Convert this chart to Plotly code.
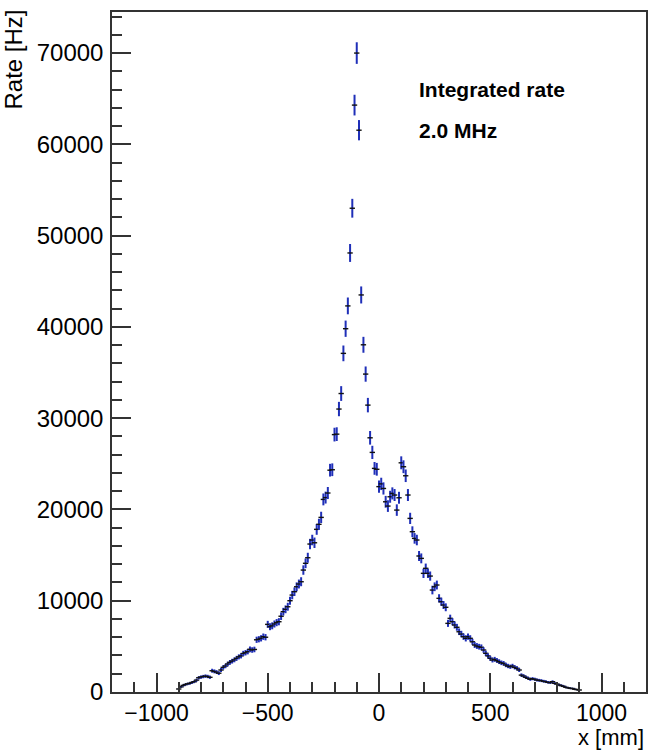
import numpy as np
import plotly.graph_objects as go

# bin centres [mm]
x_left = list(range(-900, -90, 10))      # -900 ... -100
x_right = list(range(-90, 910, 10))      # -90 ... 900

rate_left = [330, 560, 720, 820, 890, 950, 1050, 1130, 1300, 1560,
             1640, 1690, 1740, 1700, 1610, 2330, 2260, 2180, 2060, 2410,
             2700, 2850, 3070, 3250, 3380, 3520, 3690, 3850, 3960, 4220,
             4300, 4420, 4680, 4600, 4660, 5720, 5780, 5880, 6060, 6000,
             7410, 7150, 7250, 7450, 7600, 7700, 8300, 8800, 9060, 9340,
             10000, 10620, 10990, 11530, 11830, 12080, 13360, 14100, 14710, 16210,
             16650, 16350, 17820, 18370, 19130, 21100, 21300, 21800, 24300, 24350,
             28200, 28250, 31000, 32700, 37100, 39800, 42300, 48100, 53000, 64300,
             70000]

rate_right = [61550, 43500, 38040, 34830, 31430, 27850, 26250, 24500, 24400, 22500,
              22800, 22300, 20840, 20370, 21390, 21760, 21580, 19930, 21280, 25110,
              24680, 23690, 21580, 19020, 17560, 16830, 16650, 14900, 14640, 13000,
              13550, 13000, 12700, 11170, 11530, 11720, 10260, 9890, 9530, 9280,
              7520, 8070, 7700, 7340, 7090, 6600, 6350, 6060, 5880, 6060,
              5880, 5500, 5150, 5040, 4960, 4900, 4600, 4240, 3950, 3690,
              3500, 3580, 3450, 3320, 3200, 3140, 2960, 2850, 2770, 2850,
              2700, 2600, 2410, 1850, 1750, 1610, 1500, 1390, 1460, 1400,
              1310, 1280, 1240, 1180, 1130, 1060, 1020, 1130, 950, 870,
              770, 700, 620, 510, 460, 400, 380, 300, 260, 220]

x_mm = x_left + x_right
rate_hz = rate_left + rate_right

LIVE_TIME = 0.05  # s, gives Poisson uncertainty of the rate
rate_err = list(np.sqrt(np.array(rate_hz) / LIVE_TIME))
X_HALF = 12

x_tickvals = [-1000, -500, 0, 500, 1000]
y_tickvals = [0, 10000, 20000, 30000, 40000, 50000, 60000, 70000]
y_ticktext = ["0", "10000", "20000", "30000", "40000", "50000", "60000", "70000"]

fig = go.Figure()
fig.add_trace(go.Scatter(
    x=x_mm, y=rate_hz, mode="markers",
    marker=dict(size=0.1, color="black"),
    error_y=dict(type="data", array=rate_err, visible=True,
                 color="#1f2fb8", thickness=2, width=0),
    error_x=dict(type="constant", value=X_HALF, visible=True,
                 color="#111111", thickness=1.4, width=0),
    showlegend=False, hoverinfo="skip",
))

font_family = "Liberation Sans, Arial, Helvetica, sans-serif"

fig.update_layout(
    width=654, height=752,
    margin=dict(l=112, r=6, t=12, b=60),
    paper_bgcolor="white", plot_bgcolor="white",
    font=dict(family=font_family, size=24, color="black"),
    xaxis=dict(
        range=[-1200, 1200], tickvals=x_tickvals,
        ticks="inside", ticklen=19, tickwidth=1.5, tickcolor="#333",
        minor=dict(dtick=100, tick0=0, ticks="inside", ticklen=10, tickwidth=1.5, tickcolor="#333"),
        showline=True, linecolor="#333", linewidth=1.5, mirror=True,
        showgrid=False, zeroline=False,
        tickfont=dict(size=23), ticklabelstandoff=0,
    ),
    yaxis=dict(
        range=[0, 74500], tickvals=y_tickvals, ticktext=y_ticktext,
        ticks="inside", ticklen=19, tickwidth=1.5, tickcolor="#333",
        minor=dict(dtick=2000, tick0=0, ticks="inside", ticklen=10, tickwidth=1.5, tickcolor="#333"),
        showline=True, linecolor="#333", linewidth=1.5, mirror=True,
        showgrid=False, zeroline=False,
        tickfont=dict(size=24), ticklabelstandoff=2,
    ),
    annotations=[
        dict(text="Rate [Hz]", textangle=-90, xref="paper", yref="paper",
             x=0, y=1, xanchor="right", yanchor="top", xshift=-84, yshift=4,
             showarrow=False, font=dict(size=24)),
        dict(text="x [mm]", xref="paper", yref="paper",
             x=1, y=0, xanchor="right", yanchor="bottom", xshift=0, yshift=-60,
             showarrow=False, font=dict(size=22)),
        dict(text="<b>Integrated rate</b>", xref="paper", yref="paper",
             x=(418 - 112) / 536, y=(692 - 89) / 680, xanchor="left", yanchor="middle",
             showarrow=False, font=dict(size=21)),
        dict(text="<b>2.0 MHz</b>", xref="paper", yref="paper",
             x=(418 - 112) / 536, y=(692 - 130) / 680, xanchor="left", yanchor="middle",
             showarrow=False, font=dict(size=21)),
    ],
)

fig.write_html("out.html")
